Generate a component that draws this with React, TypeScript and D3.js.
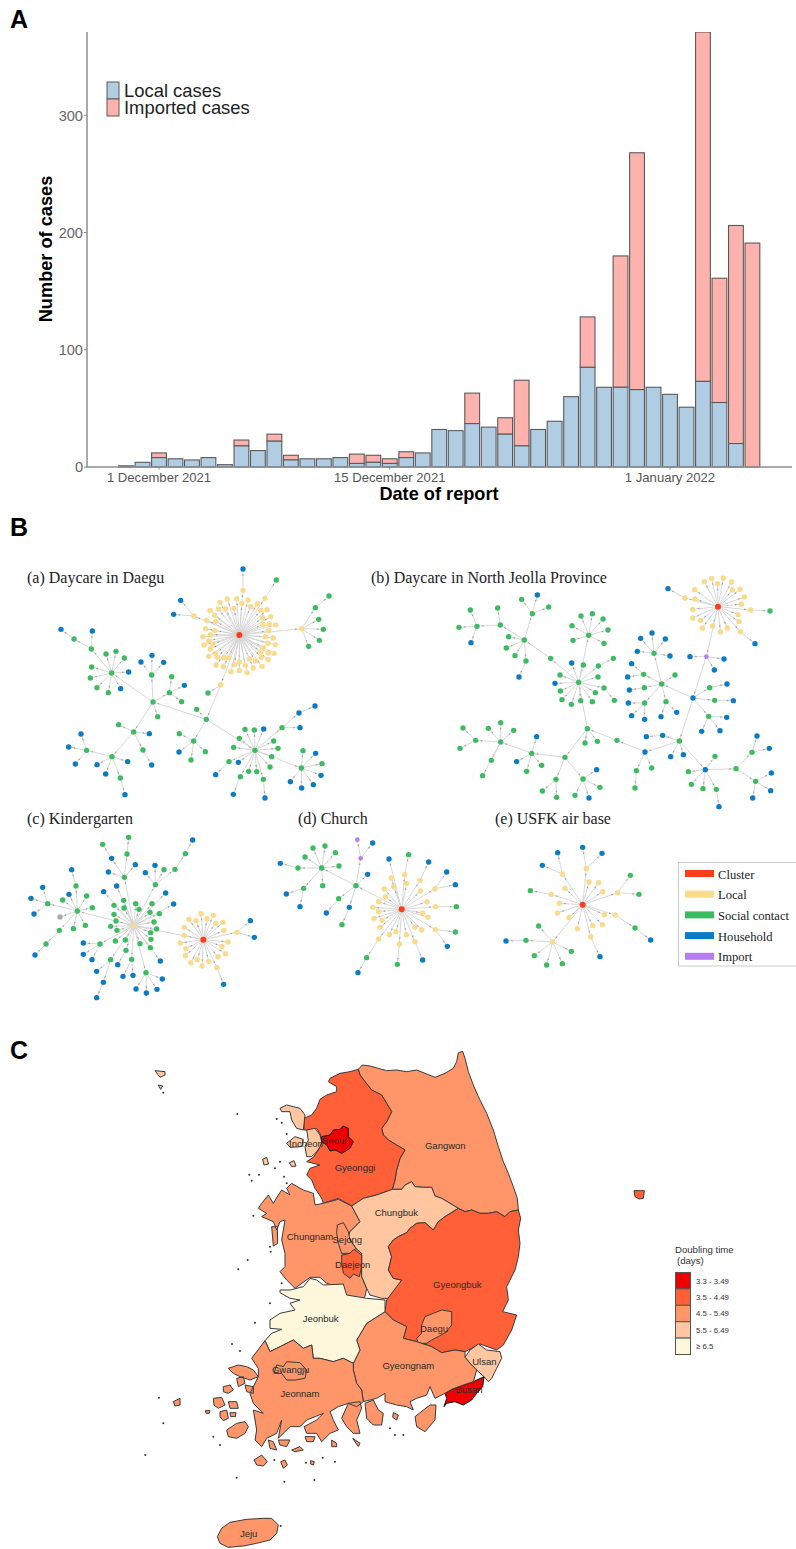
import React from 'react';
import * as d3 from 'd3';

// ---------- Panel A data ----------
const dates = ['2021-11-29','2021-11-30','2021-12-01','2021-12-02','2021-12-03','2021-12-04','2021-12-05','2021-12-06','2021-12-07','2021-12-08','2021-12-09','2021-12-10','2021-12-11','2021-12-12','2021-12-13','2021-12-14','2021-12-15','2021-12-16','2021-12-17','2021-12-18','2021-12-19','2021-12-20','2021-12-21','2021-12-22','2021-12-23','2021-12-24','2021-12-25','2021-12-26','2021-12-27','2021-12-28','2021-12-29','2021-12-30','2021-12-31','2022-01-01','2022-01-02','2022-01-03','2022-01-04','2022-01-05','2022-01-06'];
const localCases = [1,4,8,7,6,8,2,18,14,22,6,7,7,8,3,4,3,8,12,32,31,37,34,28,18,32,39,60,85,68,68,66,68,62,51,73,55,20,0];
const importedCases = [0,0,4,0,0,0,0,5,0,6,4,0,0,0,8,6,4,5,0,0,0,26,0,14,56,0,0,0,43,0,112,202,0,0,0,298,106,186,191];
const yTicks = [0,100,200,300];
const xTicks = [['2021-12-01','1 December 2021'],['2021-12-15','15 December 2021'],['2022-01-01','1 January 2022']];

// ---------- Panel B data: trees of [x, y, type, children], in units of the traced crop ----------
type N = [number, number, string, N[]];
const n = (x: number, y: number, t: string, ...k: N[]): N => [x, y, t, k];
const leaves = (t: string, pts: number[][]): N[] => pts.map(p => n(p[0], p[1], t));
const G = (x: number, y: number, ...k: N[]) => n(x, y, 'g', ...k);
const B = (x: number, y: number, ...k: N[]) => n(x, y, 'b', ...k);
const Y = (x: number, y: number, ...k: N[]) => n(x, y, 'y', ...k);
const P = (x: number, y: number, ...k: N[]) => n(x, y, 'p', ...k);

const treeA = n(718, 255, 'r',
  Y(729,121,B(729,57)), Y(795,145,G(829,90)), Y(582,198,B(542,151),B(521,193)),
  Y(905,236,G(946,173,G(987,138)),G(956,208),G(970,238),G(958,271),G(926,289)),
  ...leaves('y',[[660,157],[682,147],[710,146],[744,150],[772,161],[630,181],[655,177],[676,176],[702,175],[726,160],[752,170],[783,181],[801,179],[812,200],[788,203],[620,211],[647,214],[644,196],[808,222],[789,223],[827,225],[617,236],[644,241],[806,242],[609,260],[632,254],[626,272],[796,260],[820,264],[612,285],[638,282],[804,280],[826,284],[631,297],[647,310],[790,292],[783,306],[805,309],[822,310],[626,319],[652,322],[672,323],[686,323],[784,322],[766,333],[748,327],[648,345],[670,350],[703,344],[718,336],[736,346],[786,349],[804,329],[760,354],[693,365],[718,362],[741,368]]),
  Y(662,405,G(624,429),G(619,508,
    G(590,478),
    G(581,573,G(538,551),B(537,606),G(573,630),G(616,605)),
    G(765,601,G(735,538),G(763,540),B(791,537),G(718,565),G(701,592),G(687,635,B(647,674)),B(715,637),G(746,664),G(770,665),G(721,680,B(700,733)),G(790,688,B(795,744)),G(810,651),G(815,620),G(834,595),G(821,573),
      G(846,533,B(897,489,B(945,468)),B(900,533)),
      G(904,654,G(909,602),B(947,610),G(966,641),B(963,676),B(940,704),B(905,714),B(871,695))),
    G(459,456,
      G(335,369,G(274,297,G(222,267,B(183,238)),B(277,243)),G(318,312),G(348,304),G(373,324),B(386,366),B(362,416),G(325,428),G(291,413),G(271,384),G(275,351)),
      G(455,375,B(423,336),B(456,316),B(491,337)),
      G(508,428,G(515,380),B(553,406),G(545,455)),
      G(473,500),
      G(401,546,G(356,524),B(448,551),G(429,600,B(455,645)),
        G(336,620,G(260,601,B(243,552),B(206,591),B(226,642)),B(291,644),B(317,672),G(361,684,B(375,734)),B(383,635))))))
);

const treeB = n(1074, 170, 'r',
  Y(975,144,B(924,116)), Y(1172,180,G(1230,183)), Y(1141,245,B(1185,281)),
  ...leaves('y',[[1005,147],[1004,119],[1033,95],[1055,85],[1090,84],[1073,101],[1115,96],[1117,120],[1140,118],[1153,141],[1144,162],[1134,194],[1137,215],[1102,234],[1081,246],[1058,228],[1027,234],[1022,211],[998,204],[998,178]]),
  P(1039,320,B(990,320),B(1092,327),B(1063,360),
    B(999,444,
      G(905,402,G(882,310,B(842,265),B(876,249),B(916,267),B(832,304),B(930,318)),G(945,375),G(851,373,B(815,341),B(803,381)),G(853,413,B(808,420)),G(854,459,B(805,459),B(815,497),B(854,508)),G(918,455,B(903,500),B(950,487))),
      G(1049,413,B(1101,402)),G(1064,451,B(1120,452)),G(1046,499,B(1100,502),B(1025,544),B(1080,542)),
      G(958,573,B(908,556,B(859,560)),B(932,620),B(970,614),
        B(855,606,G(829,662,G(825,714)),G(875,654),
          G(771,571,G(682,536,G(675,579),G(712,574),
            G(656,397,B(635,339),G(670,345),G(715,348,G(760,325)),G(714,381),G(732,414,G(763,451)),G(706,428),G(697,455),G(662,452),G(634,463),G(606,449),G(601,423),B(585,400),G(600,375),
              G(686,256,G(663,198),G(697,191),G(729,207),G(744,240),G(732,280),G(639,271),G(636,227)),
              G(572,325,G(493,270,G(517,191,G(485,148),B(532,135),G(566,171)),G(421,225,G(413,174),G(351,229,G(331,180),G(297,232),B(333,278))),G(446,260),G(439,294),G(465,317),G(498,333,B(477,381))))),
            G(615,622,
              G(515,610,B(530,560),B(470,635),G(500,664),G(545,646),
                G(422,576,G(347,571,G(309,534),G(300,595)),G(385,535),G(422,518),G(461,541),G(394,631),G(368,677))),
              G(588,688,G(547,723),G(590,742)),
              G(669,687,B(710,659),G(720,712),G(645,736),B(687,744)))))),
        B(1036,659,G(1065,619),G(985,665),G(994,703),G(1029,716),G(1069,718,B(1077,770)),
          G(1128,656,G(1176,607,B(1191,558),B(1228,595)),G(1187,694,B(1234,669),B(1232,722),B(1178,744)))))))
);

const treeC = n(610, 419, 'r',
  ...leaves('y',[[567,358],[603,341],[588,362],[621,356],[640,346],[669,367],[647,370],[553,382],[672,391],[684,426],[666,439],[676,461],[654,470],[626,484],[606,498],[592,479],[572,488],[556,467],[541,429],[558,446],[553,406]]),
  Y(651,503,B(671,553)), Y(711,397,B(751,362),B(763,412)),
  Y(401,377,
    G(232,333,G(143,311,B(93,295),B(128,262),B(102,342)),G(228,258,B(215,209)),G(188,300),B(207,283),G(260,288),G(277,323),G(256,376),G(220,386),n(180,351,'n'),G(178,391,G(138,432,B(105,465)))),
    G(373,232,B(335,175,G(308,133)),B(325,216),B(406,194),G(381,162,G(386,112))),
    G(466,254,B(436,218),B(465,196),G(492,209),G(525,208,G(556,161,B(578,120)))),
    B(497,279),B(311,275),B(350,258),
    ...leaves('g',[[371,301],[372,324],[342,316],[342,343],[348,363],[332,379],[351,391],[407,311],[417,328],[456,311],[450,337],[478,341],[462,366],[470,387],[452,398],[453,418],[451,443],[420,431],[376,420],[346,423]]),
    B(521,312),B(481,483),
    G(438,518,B(487,537),B(471,568),B(439,579),B(408,567)),
    G(395,478,B(399,526),B(369,529)),
    G(378,451,B(353,494)),
    G(332,479,B(290,514),B(310,547,B(290,593))),
    G(300,432,B(250,429),B(250,463),B(276,479)))
);

const treeD = n(1205, 328, 'r',
  ...leaves('y',[[1174,234],[1220,250],[1153,267],[1181,260],[1261,273],[1156,291],[1136,305],[1281,306],[1118,322],[1136,335],[1268,339],[1284,352],[1122,355],[1146,361],[1140,382],[1168,404],[1188,395],[1245,382],[1265,390],[1219,404]]),
  Y(1214,224,G(1226,164)), B(1167,177), Y(1260,241,B(1286,186)), Y(1305,266,B(1366,254),B(1340,216)),
  Y(1307,320,G(1369,320)), Y(1306,389,G(1366,396),B(1342,439)),
  Y(1136,417,G(1100,473,B(1074,518))), Y(1198,432,G(1192,493)), Y(1245,425,B(1268,480)),
  G(1068,257,
    G(965,204,G(939,144),G(975,138),G(1006,158),G(1017,198),G(915,171),G(894,204,B(841,190)),G(968,257),G(911,265,B(859,282),B(900,320))),
    B(1103,223),P(1082,175,P(1072,119),B(1118,129)),G(1016,296,B(979,339)),B(1048,322,G(1026,374)))
);

const treeE = n(338, 314, 'r',
  Y(277,222,B(217,196),B(263,158)), Y(349,206,B(338,142),B(396,160)),
  Y(443,278,G(481,226),G(507,283)), Y(244,283,G(181,272)), Y(362,411,B(390,470)),
  Y(436,345,G(495,384,B(542,420))),
  ...leaves('y',[[357,246],[386,248],[398,275],[285,265],[268,310],[262,339],[297,353],[322,386],[368,377],[397,374],[403,344]]),
  Y(248,426,G(206,378),G(168,421,B(108,423)),G(193,467),G(230,495),G(277,491),G(304,454))
);

const networks = [
  { tree: treeA, ox: 0, oy: 550 },
  { tree: treeB, ox: 360, oy: 550 },
  { tree: treeC, ox: 0, oy: 800 },
  { tree: treeD, ox: 0, oy: 800 },
  { tree: treeE, ox: 470, oy: 800 },
];
const netTitles = [['(a) Daycare in Daegu',27,583],['(b) Daycare in North Jeolla Province',371,583],['(c) Kindergarten',27,824],['(d) Church',298,824],['(e) USFK air base',495,824]];
const nodeColor: Record<string,string> = { r:'#FC3D1E', y:'#FADB8C', g:'#3DBB60', b:'#0B7CC4', p:'#B67CF0', n:'#ABABAB' };
const keyNames = ['Cluster','Local','Social contact','Household','Import'];
const keyColors = ['#FC3D1E','#FADB8C','#3DBB60','#0B7CC4','#B67CF0'];

// ---------- Panel C data: traced outlines ----------
const C1 = '#EE0000', C2 = '#FF6038', C3 = '#FF9669', C4 = '#FFC6A0', C5 = '#FFF7DC';
type Reg = { name: string; fill: string; rings: number[][][] };
const gangwon = [[685,88],[697,75],[720,78],[745,85],[770,92],[800,90],[830,95],[860,90],[885,100],[915,112],[945,100],[970,85],[980,65],[985,38],[998,34],[1005,55],[1015,95],[1030,135],[1045,170],[1070,220],[1090,270],[1105,320],[1120,365],[1135,400],[1150,440],[1162,475],[1165,510],[1140,515],[1125,530],[1100,515],[1075,520],[1050,520],[1025,510],[1005,515],[985,505],[960,490],[935,475],[915,468],[905,442],[880,442],[855,440],[845,425],[825,435],[815,448],[787,448],[795,420],[800,390],[810,355],[825,330],[800,315],[775,300],[760,285],[755,265],[770,245],[785,215],[770,190],[755,165],[725,150],[705,125],[690,105]];
const gyeonggi = [[685,88],[660,95],[630,100],[600,115],[595,125],[620,140],[620,155],[590,165],[570,178],[560,205],[545,225],[522,235],[522,270],[545,270],[560,265],[572,285],[575,305],[570,320],[565,330],[550,352],[530,365],[570,375],[540,385],[530,405],[545,420],[555,445],[575,475],[580,490],[625,475],[665,498],[700,475],[740,465],[787,448],[795,420],[800,390],[810,355],[825,330],[800,315],[775,300],[760,285],[755,265],[770,245],[785,215],[770,190],[755,165],[725,150],[705,125],[690,105]];
const seoul = [[575,290],[600,285],[610,270],[630,268],[640,258],[655,265],[655,290],[670,305],[660,325],[635,340],[615,330],[600,333],[590,315],[575,305]];
const incheon = [[530,270],[555,265],[570,285],[575,305],[570,320],[560,335],[545,350],[530,350],[525,320],[535,300]];
const ganghwa = [[450,205],[470,195],[490,200],[510,205],[525,225],[520,270],[500,265],[485,240],[480,215],[455,215]];
const yeongjong = [[470,310],[495,290],[520,298],[515,320],[480,322]];
const chungnam = [[665,498],[625,478],[580,490],[555,495],[550,460],[520,450],[485,430],[470,445],[480,465],[455,450],[445,465],[430,490],[415,465],[395,490],[385,505],[410,520],[395,530],[430,545],[440,570],[450,545],[465,540],[455,600],[465,640],[465,680],[450,695],[470,720],[495,745],[540,712],[570,712],[590,730],[640,745],[650,770],[670,770],[680,785],[705,770],[710,745],[695,710],[695,640],[678,625],[655,590],[660,575],[690,545]];
const anmyeon = [[425,560],[442,560],[443,610],[430,618]];
const chungbuk = [[665,498],[700,475],[740,465],[787,448],[815,448],[825,435],[845,425],[855,440],[880,442],[905,442],[915,468],[935,475],[960,490],[985,505],[945,530],[925,545],[910,570],[885,548],[860,550],[840,565],[830,578],[805,590],[790,600],[775,620],[785,650],[775,690],[790,715],[815,720],[805,750],[790,775],[755,775],[720,765],[710,745],[695,710],[695,640],[678,625],[655,590],[660,575],[690,545]];
const sejong = [[622,555],[640,548],[655,575],[660,600],[678,625],[660,640],[635,640],[625,610],[620,580]];
const daejeon = [[635,645],[660,640],[672,628],[695,645],[695,680],[688,710],[670,702],[660,715],[640,700],[635,670]];
const gyeongbuk = [[985,505],[1005,515],[1025,510],[1050,520],[1075,520],[1100,515],[1125,530],[1140,515],[1165,510],[1172,535],[1165,570],[1170,610],[1165,650],[1155,690],[1130,740],[1135,780],[1118,815],[1160,825],[1145,870],[1120,915],[1100,930],[1050,912],[1005,935],[975,930],[935,938],[905,920],[860,905],[820,895],[830,860],[790,840],[765,815],[770,780],[815,720],[790,715],[775,690],[785,650],[775,620],[790,600],[805,590],[830,578],[840,565],[860,550],[885,548],[910,570],[925,545],[945,530]];
const ulsan = [[1005,952],[1020,930],[1045,912],[1070,930],[1110,935],[1115,955],[1100,985],[1085,1015],[1075,1025],[1062,1010],[1040,990],[1025,975]];
const busan = [[945,1060],[965,1048],[1000,1035],[1030,1025],[1062,1010],[1058,1040],[1040,1060],[1025,1080],[1000,1095],[975,1085],[950,1090],[942,1100],[950,1075]];
const daegu = [[875,855],[885,830],[910,820],[935,810],[965,815],[965,855],[950,875],[925,890],[905,900],[890,910],[865,910],[860,895],[875,880]];
const gyeongnam = [[765,815],[790,840],[830,860],[820,895],[860,905],[905,920],[935,938],[975,930],[1005,935],[1005,952],[1025,975],[1040,990],[1030,1025],[1000,1035],[965,1048],[945,1060],[915,1075],[900,1040],[890,1065],[860,1075],[840,1085],[850,1110],[830,1100],[800,1095],[765,1085],[765,1060],[740,1075],[700,1085],[695,1050],[680,1030],[670,990],[670,970],[690,930],[680,900],[710,850]];
const namhae = [[705,1090],[730,1080],[745,1110],[760,1120],[755,1155],[730,1155],[710,1135]];
const geoje = [[855,1130],[880,1110],[900,1095],[918,1095],[915,1140],[885,1175],[860,1160]];
const tongyeong = [[790,1118],[805,1125],[800,1140],[788,1132]];
const jeonbuk = [[450,750],[480,750],[520,740],[540,715],[560,720],[580,735],[640,732],[650,765],[710,775],[765,780],[765,815],[710,850],[680,900],[690,930],[670,970],[640,955],[610,965],[570,955],[550,955],[545,915],[520,925],[490,900],[460,915],[420,935],[405,902],[425,880],[455,868],[420,865],[420,840],[450,820],[495,810],[480,790],[510,780],[480,775],[450,758]];
const jeonnam = [[405,902],[420,935],[460,915],[490,900],[520,925],[545,915],[550,955],[570,955],[610,965],[640,955],[670,970],[670,990],[680,1030],[695,1050],[700,1085],[680,1100],[655,1090],[625,1100],[600,1115],[610,1140],[625,1170],[600,1180],[575,1205],[560,1180],[530,1180],[522,1160],[560,1140],[580,1120],[530,1140],[510,1160],[480,1160],[445,1195],[455,1140],[440,1180],[410,1195],[395,1220],[375,1200],[380,1170],[375,1140],[370,1110],[400,1120],[370,1090],[360,1060],[385,1010],[385,985],[365,955]];
const gwangju = [[440,975],[460,980],[470,965],[510,968],[530,990],[525,1015],[495,1020],[470,1020],[455,1000],[432,1000]];
const goheung = [[655,1090],[690,1085],[695,1105],[680,1140],[690,1180],[670,1180],[650,1160],[635,1135]];
const jindo = [[290,1170],[320,1150],[345,1145],[355,1160],[345,1180],[320,1195],[295,1190]];
const jnIslands = [
  [[295,985],[325,975],[350,980],[370,990],[385,1010],[360,1020],[330,1010],[310,1000]],
  [[320,1015],[340,1010],[345,1030],[325,1040]],
  [[280,1040],[300,1035],[310,1050],[295,1060],[280,1055]],
  [[345,1035],[370,1040],[370,1060],[350,1055]],
  [[250,1075],[275,1072],[285,1095],[265,1105],[252,1095]],
  [[295,1085],[320,1085],[325,1105],[300,1105]],
  [[270,1115],[290,1110],[295,1135],[280,1142],[270,1130]],
  [[300,1118],[318,1118],[316,1130],[302,1130]],
  [[130,1085],[150,1075],[150,1095],[135,1098]],
  [[415,1200],[430,1205],[440,1230],[420,1225]],
  [[445,1200],[480,1200],[470,1220],[450,1215]],
  [[485,1230],[510,1220],[520,1230],[495,1235]],
  [[525,1190],[555,1190],[550,1205],[530,1205]],
  [[605,1200],[620,1210],[620,1220],[605,1220]],
  [[668,1195],[690,1210],[685,1220]],
  [[372,1260],[395,1245],[412,1265],[400,1278],[380,1275]],
  [[452,1265],[465,1260],[472,1275],[460,1285]],
  [[542,1262],[553,1265],[550,1275],[542,1272]],
  [[226,1112],[240,1112],[238,1120],[228,1120]],
];
const jeju = [[262,1490],[275,1465],[300,1447],[350,1438],[400,1435],[425,1435],[445,1455],[440,1480],[420,1500],[380,1510],[340,1518],[295,1522],[270,1510]];
const ulleung = [[1512,452],[1543,452],[1540,475],[1527,477],[1515,470]];
const baengnyeong = [[75,92],[105,95],[105,105],[90,112]];
const daecheong = [[85,135],[98,138],[92,148]];
const peachIslands = [[[398,358],[410,352],[416,372],[402,375]],[[478,368],[492,362],[498,378],[485,380]]];
const tinyIslands = [[322,222],[440,237],[455,248],[470,282],[450,365],[435,385],[358,404],[365,422],[387,404],[462,410],[470,430],[370,527],[420,620],[422,635],[353,660],[325,688],[455,730],[100,158],[420,790],[375,848],[306,912],[330,933],[87,1073],[100,1150],[46,1245],[320,1313],[463,1325],[553,1320],[433,1260],[528,1268],[578,1253],[615,1265],[452,1458],[820,1185],[795,1185],[780,1165],[250,1190],[270,1215]];

const regions: Reg[] = [
  { name:'Gangwon', fill:C3, rings:[gangwon] },
  { name:'Gyeonggi', fill:C2, rings:[gyeonggi] },
  { name:'Incheon', fill:C4, rings:[incheon, ganghwa, yeongjong, ...peachIslands] },
  { name:'Seoul', fill:C1, rings:[seoul] },
  { name:'Chungnam', fill:C3, rings:[chungnam, anmyeon] },
  { name:'Chungbuk', fill:C4, rings:[chungbuk] },
  { name:'Sejong', fill:C3, rings:[sejong] },
  { name:'Daejeon', fill:C2, rings:[daejeon] },
  { name:'Gyeongbuk', fill:C2, rings:[gyeongbuk, ulleung] },
  { name:'Daegu', fill:C3, rings:[daegu] },
  { name:'Ulsan', fill:C4, rings:[ulsan] },
  { name:'Busan', fill:C1, rings:[busan] },
  { name:'Gyeongnam', fill:C3, rings:[gyeongnam, namhae, geoje, tongyeong] },
  { name:'Jeonbuk', fill:C5, rings:[jeonbuk] },
  { name:'Jeonnam', fill:C3, rings:[jeonnam, goheung, jindo, ...jnIslands] },
  { name:'Gwangju', fill:C3, rings:[gwangju] },
  { name:'Jeju', fill:C3, rings:[jeju] },
  { name:'Northwest', fill:C4, rings:[baengnyeong, daecheong] },
];
const mapLabels: [string, number, number][] = [['Gangwon',946,317],['Seoul',612,302],['Incheon',528,312],['Gyeonggi',675,384],['Chungbuk',799,517],['Chungnam',540,591],['Sejong',652,599],['Daejeon',668,673],['Gyeongbuk',982,734],['Jeonbuk',572,837],['Daegu',912,865],['Ulsan',1063,966],['Gwangju',482,988],['Gyeongnam',835,978],['Busan',1017,1050],['Jeonnam',510,1062],['Jeju',356,1482]];
const mapKeyLabels = ['3.3 - 3.49','3.5 - 4.49','4.5 - 5.49','5.5 - 6.49','≥ 6.5'];
const mapKeyColors = [C1, C2, C3, C4, C5];

// ---------- Scales ----------
const parse = d3.utcParse('%Y-%m-%d');
const xScale = d3.scaleUtc().domain([parse('2021-12-01')!, parse('2022-01-01')!]).range([159, 670]);
const yScale = d3.scaleLinear().domain([0, 371]).range([467, 32]);
const barW = 14.8;
const sans = '"Liberation Sans", Arial, sans-serif';
const serif = '"Liberation Serif", "Times New Roman", serif';
const close = (r: number[][]) => [...r, r[0]];
const mapProj = d3.geoIdentity().scale(1 / 3).translate([130, 1040]);
const mapPath = d3.geoPath(mapProj as any);

function flatten(tree: N) {
  const nodes: N[] = [];
  const edges: [N, N][] = [];
  const walk = (a: N) => { nodes.push(a); a[3].forEach(c => { edges.push([a, c]); walk(c); }); };
  walk(tree);
  return { nodes, edges };
}

function Network({ tree, ox, oy }: { tree: N; ox: number; oy: number }) {
  const sx = d3.scaleLinear().domain([0, 3]).range([ox, ox + 1]);
  const sy = d3.scaleLinear().domain([0, 3]).range([oy, oy + 1]);
  const { nodes, edges } = flatten(tree);
  return (
    <g>
      {edges.map(([a, b], i) => {
        const x1 = sx(a[0]), y1 = sy(a[1]), x2 = sx(b[0]), y2 = sy(b[1]);
        const ang = Math.atan2(y2 - y1, x2 - x1) * 180 / Math.PI;
        const len = Math.hypot(x2 - x1, y2 - y1);
        return (
          <g key={i}>
            <line x1={x1} y1={y1} x2={x2} y2={y2} stroke="#D2D2D2" strokeWidth={0.9} />
            <path d="M-2,-0.9L0,0L-2,0.9Z" fill="#9A9A9A" transform={`translate(${x1 + (x2 - x1) * (len - 4.5) / len},${y1 + (y2 - y1) * (len - 4.5) / len}) rotate(${ang})`} />
          </g>
        );
      })}
      {nodes.map((d, i) => (
        <circle key={i} cx={sx(d[0])} cy={sy(d[1])} r={d[2] === 'r' ? 3 : d[2] === 'p' ? 2.3 : 2.7} fill={nodeColor[d[2]]} />
      ))}
    </g>
  );
}

export default function App() {
  const y0 = yScale(0);
  return (
    <svg width={796} height={1549} style={{ position: 'absolute', left: 0, top: 0, background: '#fff', fontFamily: sans }}>
      {/* Panel letters */}
      {[['A', 28], ['B', 536], ['C', 1059]].map(([t, y]) => (
        <text key={t as string} x={10} y={y as number} fontSize={25} fontWeight="bold" fill="#000">{t}</text>
      ))}

      {/* Panel A */}
      <defs><clipPath id="plotClip"><rect x={87} y={32} width={709} height={436} /></clipPath></defs>
      <g clipPath="url(#plotClip)">
        {dates.map((d, i) => {
          const cx = xScale(parse(d)!);
          const l = localCases[i], m = importedCases[i];
          return (
            <g key={d} stroke="#5A5A5A" strokeWidth={1.1}>
              {m > 0 && <rect x={cx - barW / 2} y={yScale(l + m)} width={barW} height={yScale(l) - yScale(l + m)} fill="#FEB2AE" />}
              {l > 0 && <rect x={cx - barW / 2} y={yScale(l)} width={barW} height={y0 - yScale(l)} fill="#B0CDE4" />}
            </g>
          );
        })}
      </g>
      <line x1={87} y1={32} x2={87} y2={y0} stroke="#8E8E8E" strokeWidth={1.5} />
      <line x1={86} y1={y0} x2={792} y2={y0} stroke="#8E8E8E" strokeWidth={1.5} />
      {yTicks.map(t => (
        <g key={t}>
          <line x1={84} x2={87} y1={yScale(t)} y2={yScale(t)} stroke="#8E8E8E" />
          <text x={83} y={yScale(t)} dy="0.36em" textAnchor="end" fontSize={14.6} fill="#666">{t}</text>
        </g>
      ))}
      {xTicks.map(([d, lab]) => (
        <g key={d}>
          <line x1={xScale(parse(d)!)} x2={xScale(parse(d)!)} y1={y0} y2={y0 + 2.5} stroke="#8E8E8E" />
          <text x={xScale(parse(d)!)} y={482} textAnchor="middle" fontSize={13.1} fill="#555">{lab}</text>
        </g>
      ))}
      <text transform="translate(52,249) rotate(-90)" textAnchor="middle" fontSize={18.2} fontWeight="bold" fill="#000">Number of cases</text>
      <text x={439} y={500} textAnchor="middle" fontSize={18.2} fontWeight="bold" fill="#000">Date of report</text>
      <rect x={107} y={82} width={12} height={17} fill="#B0CDE4" stroke="#5A5A5A" strokeWidth={1} />
      <rect x={107} y={99} width={12} height={17} fill="#FEB2AE" stroke="#5A5A5A" strokeWidth={1} />
      <text x={124} y={97} fontSize={18.4} fill="#222">Local cases</text>
      <text x={124} y={114} fontSize={18.4} fill="#222">Imported cases</text>

      {/* Panel B */}
      {networks.map((nw, i) => <Network key={i} {...nw} />)}
      {netTitles.map(([t, x, y]) => (
        <text key={t as string} x={x as number} y={y as number} fontFamily={serif} fontSize={16} fill="#222">{t}</text>
      ))}
      <rect x={678.5} y={862.5} width={120} height={103.5} fill="#fff" stroke="#BDBDBD" strokeWidth={0.8} />
      {keyNames.map((k, i) => (
        <g key={k}>
          <rect x={685} y={870 + i * 20.7} width={29} height={7} fill={keyColors[i]} />
          <text x={718} y={878.5 + i * 20.7} fontFamily={serif} fontSize={12.6} fill="#222">{k}</text>
        </g>
      ))}

      {/* Panel C */}
      <g stroke="#2A2A2A" strokeWidth={1} strokeLinejoin="round">
        {regions.map(r => (
          <path key={r.name} fill={r.fill} d={mapPath({ type: 'MultiPolygon', coordinates: r.rings.map(c => [close(c)]) } as any) || ''} stroke={r.name === 'Seoul' || r.name === 'Busan' ? '#111' : '#3A3A3A'} />
        ))}
      </g>
      {tinyIslands.map(([x, y], i) => {
        const p = mapProj([x, y] as any)!;
        return <circle key={i} cx={p[0]} cy={p[1]} r={1} fill="#333" />;
      })}
      {mapLabels.map(([t, x, y]) => {
        const p = mapProj([x, y] as any)!;
        return <text key={t} x={p[0]} y={p[1]} dy="0.35em" textAnchor="middle" fontSize={9.5} fill="#2A2A2A">{t}</text>;
      })}
      <text x={675} y={1253} fontSize={9.6} fill="#333">Doubling time</text>
      <text x={677} y={1264} fontSize={9.6} fill="#333"> (days)</text>
      {mapKeyColors.map((c, i) => (
        <g key={c}>
          <rect x={675.5} y={1272.5 + i * 16.4} width={15} height={16.4} fill={c} stroke="#555" strokeWidth={1} />
          <text x={696} y={1280.8 + i * 16.4} dy="0.35em" fontSize={7.8} fill="#333">{mapKeyLabels[i]}</text>
        </g>
      ))}
    </svg>
  );
}
